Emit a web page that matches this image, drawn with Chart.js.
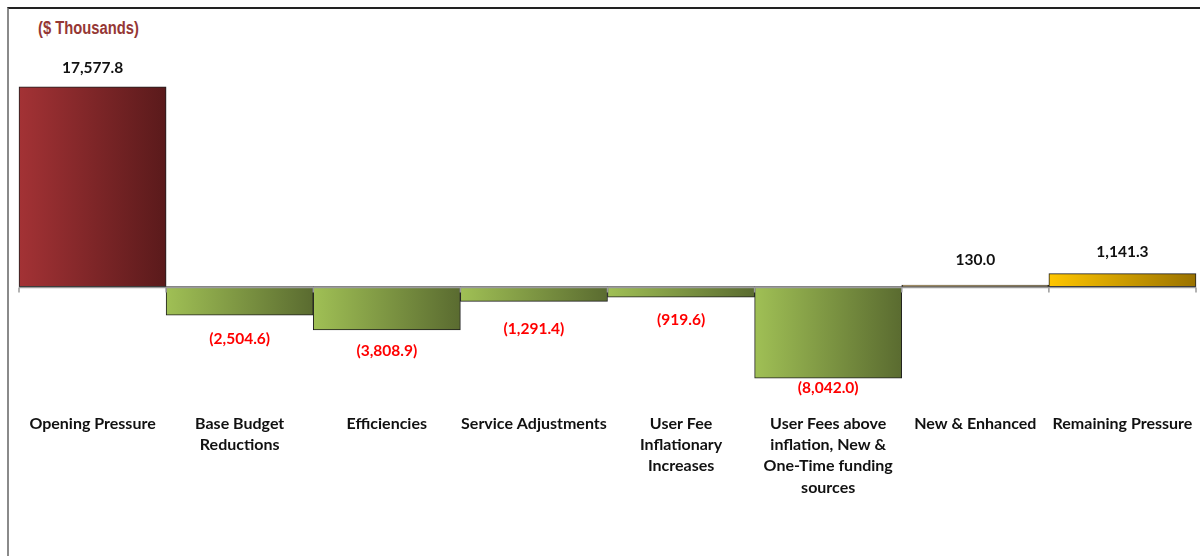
<!DOCTYPE html>
<html>
<head>
<meta charset="utf-8">
<script src="https://cdn.jsdelivr.net/npm/chart.js@4"></script>
<style>
  html, body { margin: 0; padding: 0; background: #fff; }
  #wrap { position: relative; width: 1200px; height: 556px; overflow: hidden; }
  #frame { position: absolute; left: 7px; top: 7px; right: 0; bottom: 0;
           border-top: 2px solid #222; border-left: 2px solid #8a8a8a; }
  #unit { position: absolute; left: 38px; top: 18px; color: #953735;
          font: bold 18px "Liberation Sans", sans-serif;
          transform: scaleX(0.82); transform-origin: left top; }
  canvas { position: absolute; left: 0; top: 0; }
</style>
</head>
<body>
<div id="wrap">
  <div id="frame"></div>
  <div id="unit">($ Thousands)</div>
  <canvas id="chart" width="1200" height="556"></canvas>
</div>
<script>
const categories = [
  'Opening Pressure',
  ['Base Budget', 'Reductions'],
  'Efficiencies',
  'Service Adjustments',
  ['User Fee', 'Inflationary', 'Increases'],
  ['User Fees above', 'inflation, New &', 'One-Time funding', 'sources'],
  'New & Enhanced',
  'Remaining Pressure'
];
const values = [17577.8, -2504.6, -3808.9, -1291.4, -919.6, -8042.0, 130.0, 1141.3];

// gradient colour pairs (left -> right) per bar
const fills = [
  ['#a33235', '#5a1a1b'],
  ['#a0c055', '#5a6b30'],
  ['#a0c055', '#5a6b30'],
  ['#a0c055', '#5a6b30'],
  ['#a0c055', '#5a6b30'],
  ['#a0c055', '#5a6b30'],
  ['#b08a3a', '#6b5420'],
  ['#ffc600', '#9a7200']
];
const labelGap = [19, 24, 21, 28, 23, 10, 25, 22];

const fmt = v => {
  const s = Math.abs(v).toLocaleString('en-US', { minimumFractionDigits: 1, maximumFractionDigits: 1 });
  return v < 0 ? '(' + s + ')' : s;
};

function barFill(ctx) {
  const chart = ctx.chart;
  const x = chart.scales.x;
  if (!chart.chartArea || !x || ctx.dataIndex === undefined) return fills[0][0];
  const w = x.width / categories.length;
  const c = x.getPixelForValue(ctx.dataIndex);
  if (!isFinite(c) || !isFinite(w)) return fills[ctx.dataIndex][0];
  const g = chart.ctx.createLinearGradient(c - w / 2, 0, c + w / 2, 0);
  g.addColorStop(0, fills[ctx.dataIndex][0]);
  g.addColorStop(1, fills[ctx.dataIndex][1]);
  return g;
}

const zeroLine = {
  id: 'zeroLine',
  afterDatasetsDraw(chart) {
    const { ctx, chartArea, scales: { x, y } } = chart;
    const y0 = Math.round(y.getPixelForValue(0)) + 0.5;
    ctx.save();
    ctx.strokeStyle = '#9a9a9a';
    ctx.lineWidth = 1.5;
    ctx.beginPath();
    ctx.moveTo(chartArea.left, y0);
    ctx.lineTo(chartArea.right, y0);
    const w = x.width / categories.length;
    for (let i = 0; i <= categories.length; i++) {
      const px = chartArea.left + i * w;
      ctx.moveTo(px, y0);
      ctx.lineTo(px, y0 + 5);
    }
    ctx.stroke();
    ctx.restore();
  }
};

const valueLabels = {
  id: 'valueLabels',
  afterDatasetsDraw(chart) {
    const ctx = chart.ctx;
    const meta = chart.getDatasetMeta(0);
    ctx.save();
    ctx.font = 'bold 15.5px Lato, "Liberation Sans", sans-serif';
    ctx.textAlign = 'center';
    ctx.textBaseline = 'middle';
    meta.data.forEach((bar, i) => {
      const v = values[i];
      if (v < 0) {
        ctx.fillStyle = '#ff0000';
        ctx.fillText(fmt(v), bar.x, bar.y + labelGap[i]);
      } else {
        ctx.fillStyle = '#111';
        ctx.fillText(fmt(v), bar.x, bar.y - labelGap[i]);
      }
    });
    ctx.restore();
  }
};

new Chart(document.getElementById('chart'), {
  type: 'bar',
  data: {
    labels: categories,
    datasets: [{
      data: values,
      backgroundColor: barFill,
      borderColor: '#1e1e1e',
      borderWidth: 1,
      borderSkipped: false,
      categoryPercentage: 1.0,
      barPercentage: 1.0,
      clip: false
    }]
  },
  options: {
    responsive: false,
    animation: false,
    events: [],
    layout: { padding: { left: 19, right: 4, top: 82, bottom: 58 } },
    plugins: { legend: { display: false }, tooltip: { enabled: false } },
    scales: {
      y: { display: false, min: -10400, max: 18000 },
      x: {
        grid: { display: false },
        border: { display: false },
        ticks: {
          color: '#111',
          padding: 0,
          maxRotation: 0,
          autoSkip: false,
          font: { family: 'Lato, "Liberation Sans", sans-serif', size: 16, weight: 'bold', lineHeight: 1.33 }
        }
      }
    }
  },
  plugins: [zeroLine, valueLabels]
});
</script>
</body>
</html>
